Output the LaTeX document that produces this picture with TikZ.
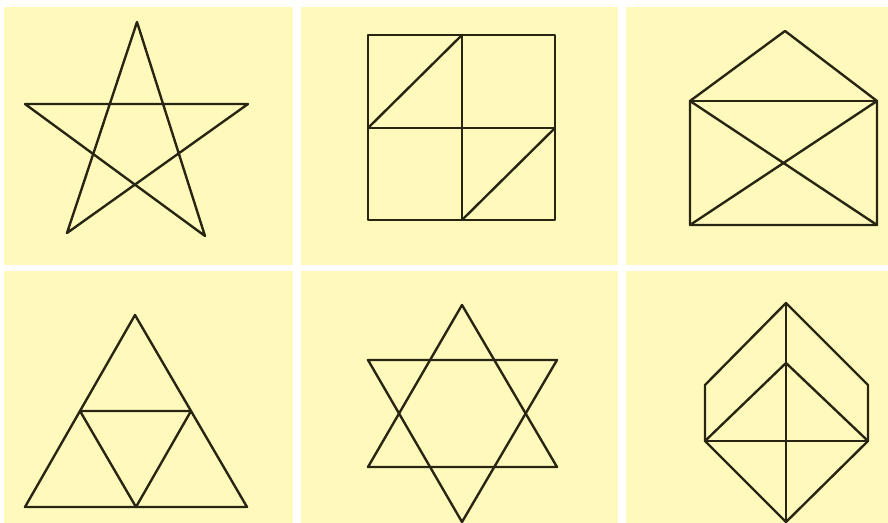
\documentclass[tikz,border=0pt]{standalone}
\usepackage{xcolor}
\usepackage{tikz}
\usetikzlibrary{calc}
\definecolor{pad}{RGB}{255,250,188}
\definecolor{ink}{RGB}{40,38,18}
\tikzset{
  panel/.style={fill=pad,draw=none},
  fig/.style={draw=ink,line width=1.7pt,line join=round,line cap=round}
}
\begin{document}
\begin{tikzpicture}[x=0.025cm,y=-0.025cm]
\fill[white] (0,0) rectangle (888,523);
\useasboundingbox (0,0) rectangle (888,523);
% six panels
\fill[panel] (4,7) rectangle (293,265);   \fill[panel] (301,7) rectangle (618,265);   \fill[panel] (626,7) rectangle (888,265);
\fill[panel] (4,271) rectangle (293,523); \fill[panel] (301,271) rectangle (618,523); \fill[panel] (626,271) rectangle (888,523);
% star
\coordinate (sT) at (137,22); \coordinate (sL) at (25,104); \coordinate (sR) at (248,104);
\coordinate (sBL) at (67,233); \coordinate (sBR) at (205,236);
\draw[fig] (sT) -- (sBL) -- (sR) -- (sL) -- (sBR) -- cycle;
% square
\coordinate (qA) at (368,35); \coordinate (qM) at (462,128); \coordinate (qB) at (555,220);
\draw[fig] (qA) rectangle (qB);
\draw[fig] (qA |- qM) -- (qB |- qM); \draw[fig] (qM |- qA) -- (qM |- qB);
\draw[fig] (qA |- qM) -- (qM |- qA); \draw[fig] (qM |- qB) -- (qB |- qM);
% envelope
\coordinate (eT) at (785,31); \coordinate (eTL) at (690,101); \coordinate (eTR) at (877,101);
\coordinate (eBL) at (690,225); \coordinate (eBR) at (877,225);
\draw[fig] (eTL) -- (eT) -- (eTR) -- (eBR) -- (eBL) -- cycle;
\draw[fig] (eTL) -- (eTR); \draw[fig] (eTL) -- (eBR); \draw[fig] (eTR) -- (eBL);
% triangle
\coordinate (tT) at (135,315); \coordinate (tL) at (25,507); \coordinate (tR) at (247,507);
\draw[fig] (tT) -- (tL) -- (tR) -- cycle;
\draw[fig] ($(tT)!0.5!(tL)$) -- ($(tT)!0.5!(tR)$) -- ($(tL)!0.5!(tR)$) -- cycle;
% hexagram
\coordinate (hT) at (462,305); \coordinate (hL) at (368,467); \coordinate (hR) at (557,467);
\coordinate (hUL) at (368,360); \coordinate (hUR) at (557,360); \coordinate (hB) at (462,522);
\draw[fig] (hT) -- (hL) -- (hR) -- cycle;
\draw[fig] (hUL) -- (hUR) -- (hB) -- cycle;
% cube
\coordinate (cT) at (786,303); \coordinate (cUL) at (705,385); \coordinate (cUR) at (868,385);
\coordinate (cL) at (705,441); \coordinate (cR) at (868,441); \coordinate (cI) at (786,363);
\coordinate (cB) at (786,522);
\draw[fig] (cT) -- (cUL) -- (cL) -- (cB) -- (cR) -- (cUR) -- cycle;
\draw[fig] (cT) -- (cB); \draw[fig] (cL) -- (cR);
\draw[fig] (cL) -- (cI) -- (cR);
\end{tikzpicture}
\end{document}
